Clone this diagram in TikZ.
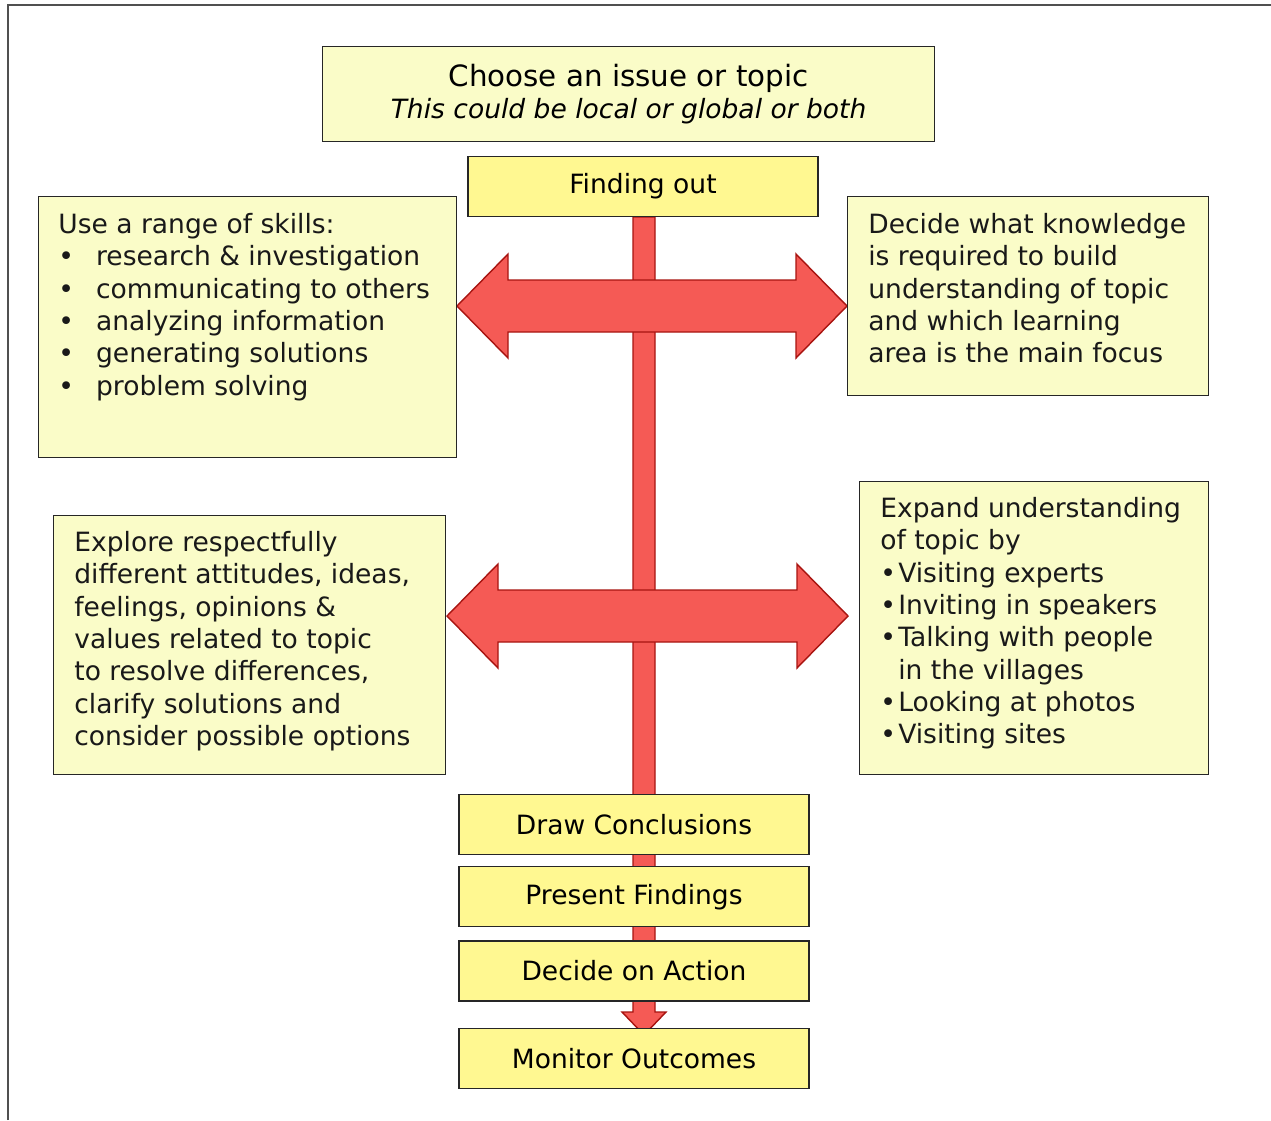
\documentclass[tikz,border=0pt]{standalone}
\usepackage{fontspec}
\setmainfont{DejaVu Sans}
\usetikzlibrary{positioning}

\definecolor{paleyellow}{HTML}{FAFCC8}
\definecolor{stepyellow}{HTML}{FFF891}
\definecolor{barred}{HTML}{F55A55}
\definecolor{bardark}{HTML}{A81410}
\definecolor{framegray}{HTML}{505050}
\newcommand{\boxfont}{\fontsize{15.1pt}{18.4pt}\selectfont}
\newcommand{\skillbul}{\makebox[21.5pt][l]{\textbullet}}
\newcommand{\wayb}{\makebox[10.2pt][l]{\textbullet}}

\begin{document}
\begin{tikzpicture}[x=0.02cm, y=-0.02cm,
infobox/.style={rectangle, draw=black!85, line width=0.7pt, fill=paleyellow, anchor=north west, inner sep=0pt},
stepbox/.style={rectangle, draw=black!85, line width=0.7pt, fill=stepyellow, minimum width=7cm, minimum height=1.2cm, font=\boxfont, inner sep=0pt},
txt/.style={anchor=north west, inner sep=0pt, align=left, font=\boxfont, text=black!90},
blockarrow/.style={fill=barred, draw=bardark, line width=0.8pt, line join=miter}
]
\useasboundingbox (0,0) rectangle (1271,1120);
% outer frame
\draw[framegray, line width=1.2pt] (8,1120) -- (8,5) -- (1271,5);

% red bar and the two double arrows
\draw[blockarrow] (633,217) -- (633,1012) -- (622,1012) -- (644,1035) -- (666,1012) -- (655,1012) -- (655,217) -- cycle;
\foreach \yc/\xl/\xr in {306/457/847, 616/447/848}
  \draw[blockarrow] (\xl,\yc) -- (\xl+51,\yc-52) -- (\xl+51,\yc-26) -- (\xr-51,\yc-26) -- (\xr-51,\yc-52)
    -- (\xr,\yc) -- (\xr-51,\yc+52) -- (\xr-51,\yc+26) -- (\xl+51,\yc+26) -- (\xl+51,\yc+52) -- cycle;

\node[infobox, minimum width=12.24cm, minimum height=1.9cm, align=center, font=\boxfont] (topic) at (322,46)
  {{\fontsize{16.7pt}{19.5pt}\selectfont Choose an issue or topic}\\\textit{This could be local or global or both}};
\node[stepbox, anchor=north] (find) at (643,156) {Finding out};

\node[infobox, minimum width=8.36cm, minimum height=5.22cm] (skills) at (38,196) {};
\node[txt] (skillstxt) at (58,213) {Use a range of skills:\\
  \skillbul research \& investigation\\
  \skillbul communicating to others\\
  \skillbul analyzing information\\
  \skillbul generating solutions\\
  \skillbul problem solving};

\node[infobox, minimum width=7.22cm, minimum height=3.98cm] (know) at (847,196) {};
\node[txt] (knowtxt) at (868,213) {Decide what knowledge\\
  is required to build\\
  understanding of topic\\
  and which learning\\
  area is the main focus};

\node[infobox, minimum width=7.84cm, minimum height=5.18cm] (explore) at (53,515) {};
\node[txt] (exploretxt) at (74,531) {Explore respectfully\\
  different attitudes, ideas,\\
  feelings, opinions \&\\
  values related to topic\\
  to resolve differences,\\
  clarify solutions and\\
  consider possible options};

\node[infobox, minimum width=6.98cm, minimum height=5.86cm] (expand) at (859,481) {};
\node[txt] (expandtxt) at (880,497) {Expand understanding\\
  of topic by\\
  \wayb Visiting experts\\
  \wayb Inviting in speakers\\
  \wayb Talking with people\\
  \hspace*{10.2pt}in the villages\\
  \wayb Looking at photos\\
  \wayb Visiting sites};

% the closing steps
\node[stepbox, anchor=north] (concl) at (634,794) {Draw Conclusions};
\node[stepbox, below=0.22cm of concl] (present) {Present Findings};
\node[stepbox, below=0.26cm of present] (action) {Decide on Action};
\node[stepbox, below=0.52cm of action] (monitor) {Monitor Outcomes};
\end{tikzpicture}
\end{document}
